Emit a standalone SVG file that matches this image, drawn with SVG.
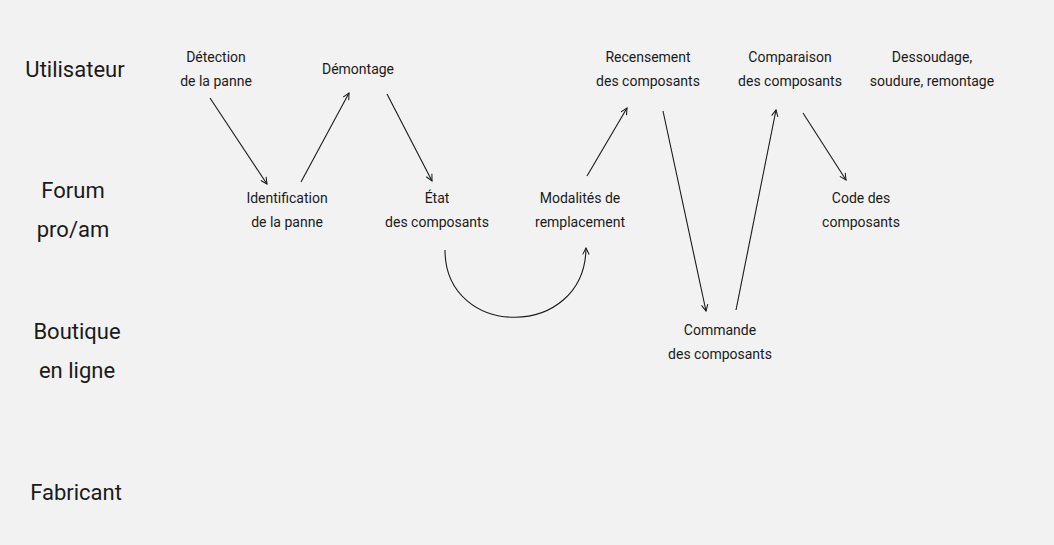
<svg xmlns="http://www.w3.org/2000/svg" width="1054" height="545" viewBox="0 0 1054 545">
<style>
text{font-family:Roboto,"Liberation Sans",sans-serif;fill:#1a1a1a;text-anchor:middle}
.n{font-size:14px}
.l{font-size:22px}
.c{stroke:#1a1a1a;stroke-width:1.1;fill:none;marker-end:url(#a)}
</style>
<defs><marker id="a" viewBox="0 0 10 10" refX="9" refY="5" markerWidth="8" markerHeight="8" orient="auto" markerUnits="userSpaceOnUse"><path d="M1,1 L9,5 L1,9" fill="none" stroke="#1a1a1a" stroke-width="1.3"/></marker></defs>
<rect width="1054" height="545" fill="#f2f2f2"/>
<g id="lanes">
<text class="l" x="75" y="77">Utilisateur</text>
<text class="l" x="73" y="198">Forum</text><text class="l" x="73" y="237">pro/am</text>
<text class="l" x="77" y="339">Boutique</text><text class="l" x="77" y="378">en ligne</text>
<text class="l" x="76" y="500">Fabricant</text>
</g>
<g id="detection"><text class="n" x="216" y="62">Détection</text><text class="n" x="216" y="86">de la panne</text></g>
<g id="demontage"><text class="n" x="358" y="74">Démontage</text></g>
<g id="identification"><text class="n" x="287" y="203">Identification</text><text class="n" x="287" y="227">de la panne</text></g>
<g id="etat"><text class="n" x="437" y="203">État</text><text class="n" x="437" y="227">des composants</text></g>
<g id="modalites"><text class="n" x="580" y="203">Modalités de</text><text class="n" x="580" y="227">remplacement</text></g>
<g id="recensement"><text class="n" x="648" y="62">Recensement</text><text class="n" x="648" y="86">des composants</text></g>
<g id="comparaison"><text class="n" x="790" y="62">Comparaison</text><text class="n" x="790" y="86">des composants</text></g>
<g id="dessoudage"><text class="n" x="932" y="62">Dessoudage,</text><text class="n" x="932" y="86">soudure, remontage</text></g>
<g id="code"><text class="n" x="861" y="203">Code des</text><text class="n" x="861" y="227">composants</text></g>
<g id="commande"><text class="n" x="720" y="335">Commande</text><text class="n" x="720" y="359">des composants</text></g>
<g id="connectors">
<path class="c" d="M210,98 L267,184"/>
<path class="c" d="M301,182 L349,93"/>
<path class="c" d="M387,94 L432,181"/>
<path class="c" d="M445,250 C445,340 585,340 586,248"/>
<path class="c" d="M587,176 L627,108"/>
<path class="c" d="M663,111 L706,311"/>
<path class="c" d="M736,310 L776,110"/>
<path class="c" d="M803,113 L846,180"/>
</g>
</svg>
